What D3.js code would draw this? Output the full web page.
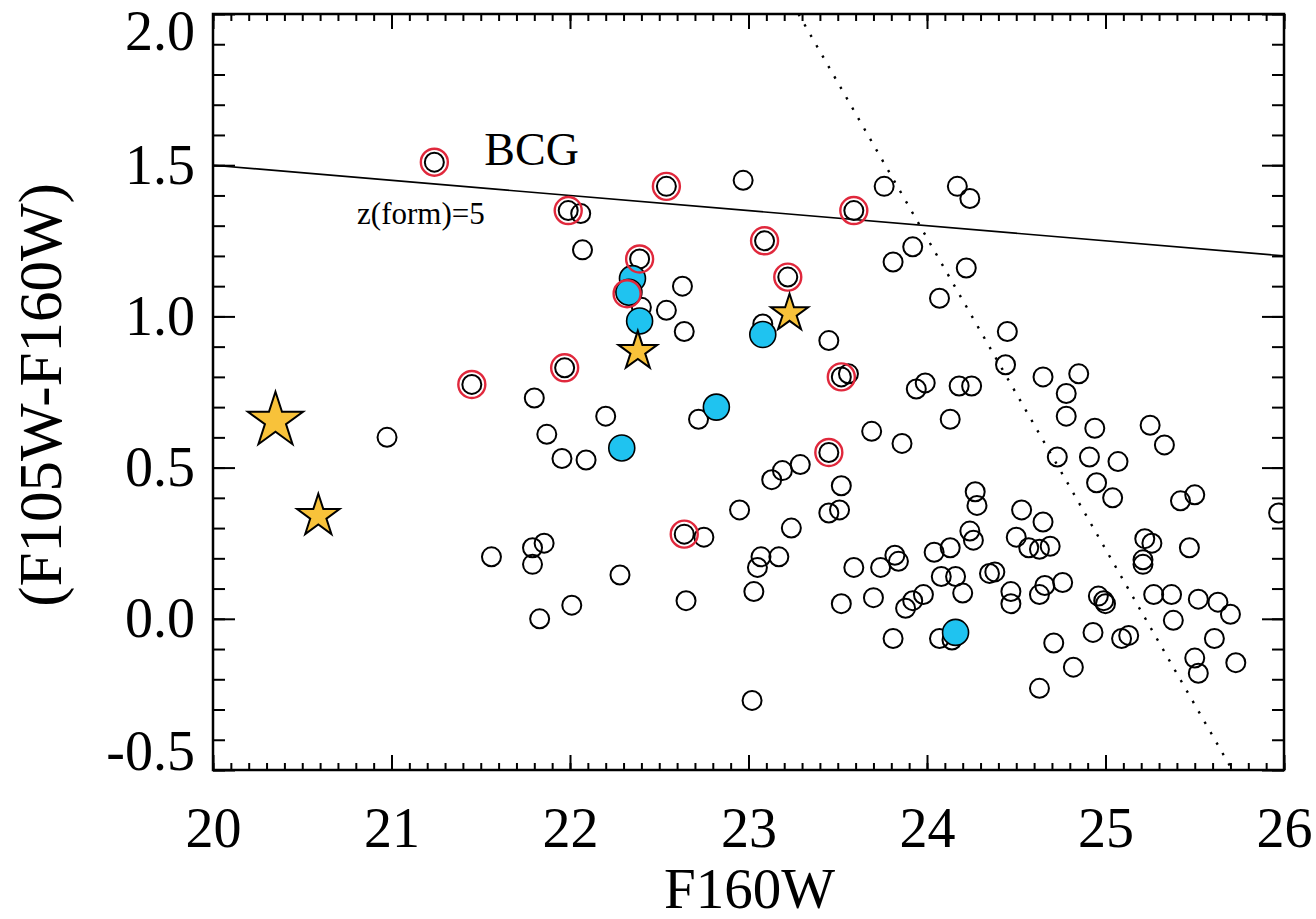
<!DOCTYPE html>
<html>
<head>
<meta charset="utf-8">
<script src="https://cdn.jsdelivr.net/npm/d3@7"></script>
<style>
    body { margin: 0; background: #fff; }
    text { font-family: "Liberation Serif", "Times New Roman", serif; fill: #000; }
</style>
</head>
<body>
<script>
// tick values
var xTicks = [20, 21, 22, 23, 24, 25, 26];
var yTicks = [-0.5, 0.0, 0.5, 1.0, 1.5, 2.0];

// all galaxies (open circles): F160W and F105W-F160W
var galaxyMag = [
    21.24, 21.99, 22.06, 22.54, 22.97, 23.59, 23.09, 23.22, 22.39, 22.07,
    22.63, 22.54, 22.64, 22.40, 23.08, 23.45, 23.52, 23.56, 24.07, 23.76,
    24.17, 24.24, 23.92, 23.81, 24.22, 22.72, 22.20, 23.13, 23.19, 23.29,
    23.69, 23.86, 23.94, 23.99, 24.18, 24.25, 24.13, 23.45, 23.52, 23.45,
    23.51, 22.95, 22.64, 22.75, 23.24, 22.28, 22.65, 23.03, 23.05, 23.07,
    23.17, 23.59, 23.52, 23.70, 23.74, 23.82, 23.84, 23.88, 23.92, 23.98,
    24.04, 24.13, 24.08, 24.16, 24.20, 24.24, 24.26, 24.27, 24.28, 24.35,
    24.38, 24.45, 24.44, 24.65, 24.85, 24.78, 24.78, 24.94, 25.25, 25.33,
    24.73, 24.91, 25.07, 24.95, 25.04, 25.42, 25.50, 24.53, 24.65, 24.50,
    24.57, 24.63, 24.69, 24.47, 24.47, 24.63, 24.66, 24.76, 24.96, 24.99,
    25.00, 25.22, 25.26, 25.21, 25.21, 25.47, 25.27, 25.37, 25.52, 25.63,
    25.70, 25.38, 25.97, 23.81, 24.07, 24.14, 24.71, 24.63, 24.82, 24.93,
    25.09, 25.13, 25.61, 25.50, 25.52, 25.73, 23.02, 21.83, 22.01, 20.975,
    21.45, 21.97, 21.80, 21.87, 21.955, 22.09, 21.56, 21.79, 21.855, 21.79
];
var galaxyColor = [
    1.51, 1.35, 1.34, 1.43, 1.45, 1.35, 1.25, 1.13, 1.19, 1.22,
    1.10, 1.02, 0.95, 1.03, 0.975, 0.92, 0.80, 0.81, 1.06, 1.43,
    1.43, 1.39, 1.23, 1.18, 1.16, 0.66, 0.67, 0.46, 0.49, 0.51,
    0.62, 0.58, 0.76, 0.78, 0.77, 0.77, 0.66, 0.55, 0.44, 0.35,
    0.36, 0.36, 0.28, 0.27, 0.30, 0.145, 0.06, 0.09, 0.17, 0.205,
    0.205, 0.17, 0.05, 0.07, 0.17, 0.21, 0.19, 0.035, 0.06, 0.08,
    0.22, 0.235, 0.14, 0.14, 0.085, 0.29, 0.26, 0.42, 0.375, 0.15,
    0.155, 0.95, 0.84, 0.80, 0.81, 0.745, 0.67, 0.63, 0.64, 0.575,
    0.535, 0.535, 0.52, 0.45, 0.40, 0.39, 0.41, 0.36, 0.32, 0.27,
    0.235, 0.23, 0.24, 0.09, 0.05, 0.08, 0.11, 0.12, 0.075, 0.06,
    0.05, 0.265, 0.25, 0.195, 0.18, 0.235, 0.08, 0.08, 0.065, 0.055,
    0.015, -0.005, 0.35, -0.065, -0.065, -0.07, -0.08, -0.23, -0.16, -0.045,
    -0.065, -0.055, -0.065, -0.13, -0.18, -0.145, -0.27, 0.0, 0.045, 0.60,
    0.775, 0.83, 0.73, 0.61, 0.53, 0.525, 0.205, 0.235, 0.25, 0.18
];

// red-ringed galaxies
var ringMag = [21.24, 21.99, 22.54, 23.59, 23.09, 23.22, 22.39, 23.52, 23.45, 22.64, 21.45, 21.97, 22.32];
var ringColor = [1.51, 1.35, 1.43, 1.35, 1.25, 1.13, 1.19, 0.80, 0.55, 0.28, 0.775, 0.83, 1.075];

// blue filled galaxies
var blueMag = [22.35, 22.33, 22.39, 23.08, 22.82, 22.29, 24.16];
var blueColor = [1.125, 1.08, 0.985, 0.94, 0.70, 0.565, -0.045];

// stars
var starMag = [20.35, 20.59, 22.38, 23.23];
var starColor = [0.655, 0.34, 0.885, 1.01];

// z(form)=5 sequence and the completeness limit
var zformMag = [20, 26];
var zformColor = [1.5, 1.2];
var limitMag = [23.28, 25.71];
var limitColor = [2.0, -0.5];

(function() {

    var left = 213, right = 1284, top = 14, bottom = 770;

    var svg = d3.select('body').append('svg')
                .attr('width', 1316)
                .attr('height', 919);

    var x = d3.scaleLinear().domain([20, 26]).range([left, right]);
    var y = d3.scaleLinear().domain([-0.5, 2.0]).range([bottom, top]);

    svg.append('clipPath')
        .attr('id', 'plot-clip')
        .append('rect')
            .attr('x', left)
            .attr('y', top)
            .attr('width', right - left)
            .attr('height', bottom - top);

    var addAxis = function(axis, tx, ty) {
        var g = svg.append('g')
                    .attr('transform', 'translate(' + tx + ',' + ty + ')')
                    .call(axis);
        g.select('.domain').remove();
        g.selectAll('.tick line')
            .attr('stroke', '#000')
            .attr('stroke-width', 2);
        return g;
    };

    var xMinor = d3.range(0, 61).map(function(i) { return 20 + i / 10; });
    var yMinor = d3.range(0, 26).map(function(i) { return -0.5 + i / 10; });

    // minor ticks on all four sides
    addAxis(d3.axisBottom(x).tickValues(xMinor).tickSize(-7).tickFormat(''), 0, bottom);
    addAxis(d3.axisTop(x).tickValues(xMinor).tickSize(-7).tickFormat(''), 0, top);
    addAxis(d3.axisLeft(y).tickValues(yMinor).tickSize(-12).tickFormat(''), left, 0);
    addAxis(d3.axisRight(y).tickValues(yMinor).tickSize(-12).tickFormat(''), right, 0);

    // major ticks
    var xAxis = addAxis(d3.axisBottom(x).tickValues(xTicks).tickSize(-15).tickPadding(37)
                    .tickFormat(d3.format('d')), 0, bottom);
    xAxis.attr('font-size', 56);
    addAxis(d3.axisTop(x).tickValues(xTicks).tickSize(-15).tickFormat(''), 0, top);

    var yAxis = addAxis(d3.axisLeft(y).tickValues(yTicks).tickSize(-22).tickPadding(18)
                    .tickFormat(function(d) { return d.toFixed(1); }), left, 0);
    yAxis.attr('font-size', 56);
    // end labels are pulled inside the frame
    yAxis.selectAll('.tick text')
        .attr('y', function(d) {
            if (d === 2.0) return 18;
            if (d === -0.5) return -18;
            return 0;
        });
    addAxis(d3.axisRight(y).tickValues(yTicks).tickSize(-22).tickFormat(''), right, 0);

    svg.append('rect')
        .attr('x', left)
        .attr('y', top)
        .attr('width', right - left)
        .attr('height', bottom - top)
        .attr('fill', 'none')
        .attr('stroke', '#000')
        .attr('stroke-width', 2.5);

    var plot = svg.append('g').attr('clip-path', 'url(#plot-clip)');

    var line = d3.line()
                .x(function(d) { return x(d[0]); })
                .y(function(d) { return y(d[1]); });

    plot.append('path')
        .datum(d3.zip(zformMag, zformColor))
        .attr('d', line)
        .attr('fill', 'none')
        .attr('stroke', '#000')
        .attr('stroke-width', 1.6);

    plot.append('path')
        .datum(d3.zip(limitMag, limitColor))
        .attr('d', line)
        .attr('fill', 'none')
        .attr('stroke', '#000')
        .attr('stroke-width', 2.4)
        .attr('stroke-dasharray', '2.4,9.6');

    plot.selectAll('circle.galaxy')
        .data(d3.zip(galaxyMag, galaxyColor))
        .enter()
            .append('circle')
            .attr('class', 'galaxy')
            .attr('cx', function(d) { return x(d[0]); })
            .attr('cy', function(d) { return y(d[1]); })
            .attr('r', 9.5)
            .attr('fill', 'none')
            .attr('stroke', '#000')
            .attr('stroke-width', 2);

    plot.selectAll('circle.blue')
        .data(d3.zip(blueMag, blueColor))
        .enter()
            .append('circle')
            .attr('class', 'blue')
            .attr('cx', function(d) { return x(d[0]); })
            .attr('cy', function(d) { return y(d[1]); })
            .attr('r', 13)
            .attr('fill', '#1fc3f0')
            .attr('stroke', '#000')
            .attr('stroke-width', 1.6);

    plot.selectAll('circle.ring')
        .data(d3.zip(ringMag, ringColor))
        .enter()
            .append('circle')
            .attr('class', 'ring')
            .attr('cx', function(d) { return x(d[0]); })
            .attr('cy', function(d) { return y(d[1]); })
            .attr('r', 13.5)
            .attr('fill', 'none')
            .attr('stroke', '#e0283c')
            .attr('stroke-width', 2.4);

    // star size follows brightness
    var starRadius = d3.scaleLinear().domain([20.35, 20.6, 23.3]).range([29, 22, 19.5]).clamp(true);
    var star = d3.symbol().type(d3.symbolStar);

    plot.selectAll('path.star')
        .data(d3.zip(starMag, starColor))
        .enter()
            .append('path')
            .attr('class', 'star')
            .attr('transform', function(d) {
                return 'translate(' + x(d[0]) + ',' + y(d[1]) + ')';
            })
            .attr('d', function(d) {
                var r = starRadius(d[0]);
                return star.size(r * r / 0.8908130915292852)();
            })
            .attr('fill', '#f8c23a')
            .attr('stroke', '#000')
            .attr('stroke-width', 2)
            .attr('stroke-linejoin', 'miter');

    svg.append('text')
        .attr('x', x(21.52))
        .attr('y', y(1.5))
        .attr('font-size', 46)
        .text('BCG');

    svg.append('text')
        .attr('x', x(20.807))
        .attr('y', y(1.306))
        .attr('font-size', 31)
        .text('z(form)=5');

    svg.append('text')
        .attr('x', (left + right) / 2 + 1)
        .attr('y', 908)
        .attr('text-anchor', 'middle')
        .attr('font-size', 57)
        .text('F160W');

    svg.append('text')
        .attr('transform', 'translate(61,' + 395 + ') rotate(-90)')
        .attr('text-anchor', 'middle')
        .attr('font-size', 61)
        .text('(F105W-F160W)');

}());
</script>
</body>
</html>
